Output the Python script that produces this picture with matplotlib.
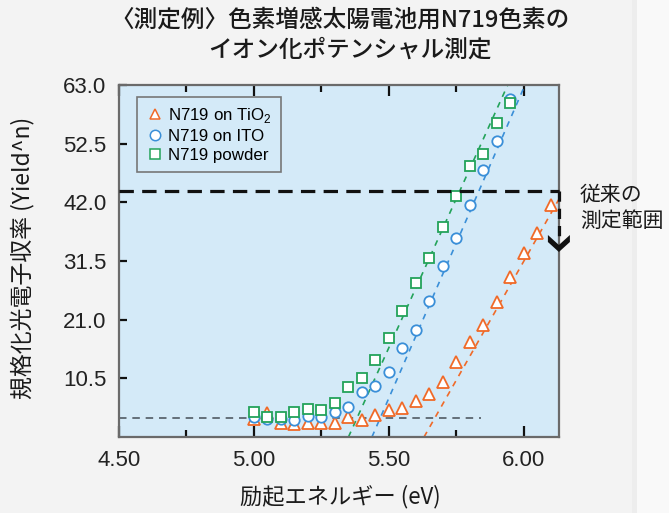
import numpy as np
import matplotlib
matplotlib.use("Agg")
import matplotlib.pyplot as plt
from matplotlib.patches import Polygon, Rectangle

plt.rcParams['font.family'] = ['Liberation Sans', 'Noto Sans CJK JP', 'DejaVu Sans']
plt.rcParams['mathtext.fontset'] = 'custom'
plt.rcParams['mathtext.rm'] = 'Liberation Sans'

# ---------------- data ----------------
tio2_x = [5.00, 5.05, 5.10, 5.15, 5.20, 5.25, 5.30, 5.35, 5.40, 5.45, 5.50, 5.55,
          5.60, 5.65, 5.70, 5.75, 5.80, 5.85, 5.90, 5.95, 6.00, 6.05, 6.10]
tio2_y = [3.2, 4.3, 2.5, 2.3, 2.5, 2.5, 2.5, 3.6, 3.0, 3.9, 4.8, 5.2,
          6.4, 7.7, 9.8, 13.4, 17.0, 20.0, 24.2, 28.7, 32.9, 36.5, 41.5]

ito_x = [5.00, 5.05, 5.10, 5.15, 5.20, 5.25, 5.30, 5.35, 5.40, 5.45,
         5.50, 5.55, 5.60, 5.65, 5.70, 5.75, 5.80, 5.85, 5.90, 5.95]
ito_y = [3.6, 3.2, 3.2, 3.0, 3.8, 3.6, 4.5, 5.4, 8.0, 9.1,
         11.6, 15.9, 19.2, 24.3, 30.6, 35.6, 41.5, 47.8, 53.0, 60.5]

powder_x = [5.00, 5.05, 5.10, 5.15, 5.20, 5.25, 5.30, 5.35, 5.40, 5.45,
            5.50, 5.55, 5.60, 5.65, 5.70, 5.75, 5.80, 5.85, 5.90, 5.95]
powder_y = [4.4, 3.6, 3.6, 4.5, 5.0, 4.8, 6.1, 8.9, 10.6, 13.8,
            17.7, 22.5, 27.6, 32.0, 37.6, 43.1, 48.5, 50.7, 56.2, 59.8]

# linear fits: (onset energy, end energy, value at end)
fit_onset = [5.63, 5.437, 5.35]      # TiO2, ITO, powder
fit_end_x = [6.135, 6.004, 5.94]
fit_end_y = [43.0, 63.0, 63.0]

baseline_level = 3.4
baseline_end = 5.84
range_level = 44.1
range_bottom = 35.5

xticks = [4.50, 5.00, 5.50, 6.00]
yticks = [10.5, 21.0, 31.5, 42.0, 52.5, 63.0]

labels = ['N719 on TiO$_2$', 'N719 on ITO', 'N719 powder']
colors = ['#f06a28', '#3a8fd8', '#23a35a']
markers = ['^', 'o', 's']

title_l1 = '〈測定例〉色素増感太陽電池用N719色素の'
title_l2 = 'イオン化ポテンシャル測定'
xlabel = '励起エネルギー (eV)'
ylabel = '規格化光電子収率 (Yield^n)'
note = '従来の\n測定範囲'

# ---------------- figure ----------------
W, H = 669, 513
fig = plt.figure(figsize=(W / 100, H / 100), dpi=100, facecolor='#f3f3f3')
fig.patches.append(Rectangle((632 / W, 0), 1 - 632 / W, 1, transform=fig.transFigure,
                             facecolor='#f9f9f9', edgecolor='none', zorder=-1))
fig.patches.append(Rectangle((632 / W, 0), 5 / W, 1, transform=fig.transFigure,
                             facecolor='#ededed', edgecolor='none', zorder=-1))

ax = fig.add_axes([119 / W, 1 - 437 / H, 440 / W, 352 / H])
ax.set_facecolor('#d4eaf8')
ax.set_xlim(4.50, 6.13)
ax.set_ylim(0, 63.0)

# baseline
ax.plot([4.50, baseline_end], [baseline_level, baseline_level], color='#505a64',
        lw=1.2, dashes=(4.5, 3.5), zorder=2)

# fits
for on, ex, ey, c in zip(fit_onset, fit_end_x, fit_end_y, colors):
    xs = np.array([on, ex])
    ys = np.array([0.0, ey])
    ax.plot(xs, ys, color=c, lw=1.2, dashes=(3.5, 3.5), zorder=2)

# data
series = [(tio2_x, tio2_y), (ito_x, ito_y), (powder_x, powder_y)]
for (xs, ys), c, m, lab in zip(series, colors, markers, labels):
    ms = 8.5 if m == '^' else 7.5
    ax.plot(xs, ys, linestyle='none', marker=m, ms=ms, mfc='white', mec=c, mew=1.3,
            label=lab, zorder=3)

# conventional range
ax.plot([4.50, 6.13], [range_level, range_level], color='#111111', lw=2.3,
        dashes=(4.5, 2.6), zorder=4, clip_on=False)
ax.plot([6.13, 6.13], [range_level, range_bottom], color='#111111', lw=2.3,
        dashes=(3.2, 2.2), zorder=4, clip_on=False)

def px2data(px, py):
    return (5.0 + (px - 254) / 270.0, (437 - py) * 63.0 / 352.0)

chev_px = [(548, 235), (559, 245), (570, 235), (570, 242), (559, 252), (548, 242)]
chev = Polygon([px2data(*p) for p in chev_px], closed=True, facecolor='#111111',
               edgecolor='none', clip_on=False, zorder=5)
ax.add_patch(chev)

# axes style
for s in ax.spines.values():
    s.set_color('#6a6a6a')
    s.set_linewidth(1.6)
ax.set_xticks(xticks)
ax.set_xticklabels([f'{v:.2f}' for v in xticks])
ax.set_xticks([4.75, 5.25, 5.75], minor=True)
ax.set_yticks(yticks)
ax.set_yticklabels([f'{v:.1f}' for v in yticks])
ax.tick_params(axis='x', which='major', direction='in', length=8, width=1.6,
               top=True, bottom=True, labelsize=16, pad=9, colors='#111111')
ax.tick_params(axis='x', which='minor', direction='in', length=5, width=1.6,
               top=True, bottom=True, colors='#111111')
ax.tick_params(axis='y', which='major', direction='in', length=6, width=1.6,
               left=True, right=False, labelsize=16, pad=9, colors='#111111')
for lbl in ax.get_xticklabels() + ax.get_yticklabels():
    lbl.set_color('#222222')

leg = ax.legend(loc='upper left', bbox_to_anchor=((137 - 119) / 440, 1 - (97 - 85) / 352),
                frameon=True, fancybox=False, edgecolor='#777777', facecolor='#d4eaf8',
                framealpha=1, fontsize=12.2, handletextpad=0.3, handlelength=1.0,
                borderpad=0.55, labelspacing=0.22, borderaxespad=0)
leg.get_frame().set_linewidth(1.2)
for h in leg.legend_handles:
    h.set_markersize(7.5)
    h.set_markeredgewidth(1.1)

cjk = ['Noto Sans CJK JP', 'DejaVu Sans']
fig.text(340 / W, 1 - 20 / H, title_l1, ha='center', va='center', fontsize=17,
         family=cjk, weight='medium', color='#1a1a1a')
fig.text(350 / W, 1 - 50 / H, title_l2, ha='center', va='center', fontsize=17,
         family=cjk, weight='medium', color='#1a1a1a')
fig.text(340 / W, 1 - 497 / H, xlabel, ha='center', va='center', fontsize=16,
         family=cjk, color='#1a1a1a')
fig.text(22 / W, 1 - 258 / H, ylabel, ha='center', va='center', fontsize=16.5,
         family=cjk, rotation=90, color='#1a1a1a')
fig.text(580 / W, 1 - 208 / H, note, ha='left', va='center', fontsize=15,
         family=cjk, color='#1a1a1a', linespacing=1.25)

fig.savefig('out.png', dpi=100, facecolor=fig.get_facecolor())
